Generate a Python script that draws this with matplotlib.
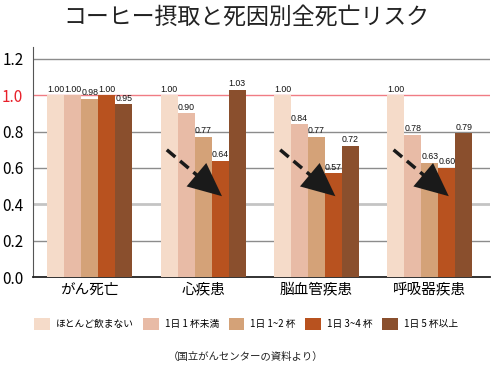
import numpy as np
import matplotlib
matplotlib.use("Agg")
import matplotlib.pyplot as plt

plt.rcParams['font.family'] = ['Noto Sans CJK JP', 'DejaVu Sans']

# data
categories = ['がん死亡', '心疾患', '脳血管疾患', '呼吸器疾患']
series = ['ほとんど飲まない', '1日 1 杯未満', '1日 1~2 杯', '1日 3~4 杯', '1日 5 杯以上']
never = [1.00, 1.00, 1.00, 1.00]
under1 = [1.00, 0.90, 0.84, 0.78]
one_two = [0.98, 0.77, 0.77, 0.63]
three_four = [1.00, 0.64, 0.57, 0.60]
five_plus = [0.95, 1.03, 0.72, 0.79]
values = [never, under1, one_two, three_four, five_plus]
colors = ['#F5DBC9', '#E8BBA6', '#D4A278', '#B8521F', '#8A4F2D']
yticks = [0.0, 0.2, 0.4, 0.6, 0.8, 1.0, 1.2]

# dashed arrows (offsets from group centre) on the last three groups
arrow_groups = [1, 2, 3]
arrow_start = (-0.32, 0.70)
arrow_end = (0.185, 0.435)

W, H = 492, 375
fig = plt.figure(figsize=(W / 100, H / 100), dpi=100)
ax = fig.add_axes([33 / W, (H - 277) / H, (490 - 33) / W, (277 - 47) / H])

x = np.arange(len(categories))
bw = 0.15
for i, (vals, c) in enumerate(zip(values, colors)):
    pos = x + (i - 2) * bw
    ax.bar(pos, vals, width=bw, color=c, label=series[i], zorder=3)
    for px, v in zip(pos, vals):
        ax.text(px, v + 0.01, f'{v:.2f}', ha='center', va='bottom',
                fontsize=6.3, family='Liberation Sans',
                color='#111111', zorder=5)

# grid lines
for t in yticks[1:]:
    if t == 1.0:
        ax.axhline(t, color='#F07C84', lw=1.0, zorder=1)
    elif t == 0.4:
        ax.axhline(t, color='#C4C4C4', lw=2.0, zorder=1)
    else:
        ax.axhline(t, color='#8C8C8C', lw=1.0, zorder=1)

for g in arrow_groups:
    x0, y0 = g + arrow_start[0], arrow_start[1]
    x1, y1 = g + arrow_end[0], arrow_end[1]
    ax.plot([x0, x0 + (x1 - x0) * 0.75], [y0, y0 + (y1 - y0) * 0.75],
            color='#1a1a1a', lw=2.5, dashes=(3.2, 1.8), zorder=6)
    ax.annotate('', xy=(x1, y1), xytext=(x0 + (x1 - x0) * 0.55, y0 + (y1 - y0) * 0.55),
                arrowprops=dict(arrowstyle='-|>,head_length=1.2,head_width=0.55',
                                color='#1a1a1a', lw=0.01, mutation_scale=20),
                zorder=7)

ax.set_xlim(-0.5, 3.53)
ax.set_ylim(0, 1.266)
ax.set_yticks(yticks)
ax.set_yticklabels([f'{t:.1f}' for t in yticks], fontsize=11)
for lbl, t in zip(ax.get_yticklabels(), yticks):
    if t == 1.0:
        lbl.set_color('#E8202A')
ax.tick_params(axis='y', length=0, pad=7)
ax.set_xticks(x)
ax.set_xticklabels(categories, fontsize=10.5)
ax.tick_params(axis='x', length=0, pad=4)
for s in ['top', 'right']:
    ax.spines[s].set_visible(False)
ax.spines['left'].set_color('#555555')
ax.spines['bottom'].set_color('#222222')
ax.spines['bottom'].set_linewidth(1.3)

fig.text(0.5, 1 - 17 / H, 'コーヒー摂取と死因別全死亡リスク', ha='center', va='center',
         fontsize=16.5, color='#222222')

fig.legend(loc='center', bbox_to_anchor=(0.5, 1 - 324 / H), ncol=5, frameon=False,
           fontsize=7, handlelength=1.6, handleheight=1.6, handletextpad=0.6,
           columnspacing=1.0, borderaxespad=0)

fig.text(0.5, 1 - 357 / H, '（国立がんセンターの資料より）', ha='center', va='center',
         fontsize=7.5, color='#222222')

fig.savefig('out.png', dpi=100)
